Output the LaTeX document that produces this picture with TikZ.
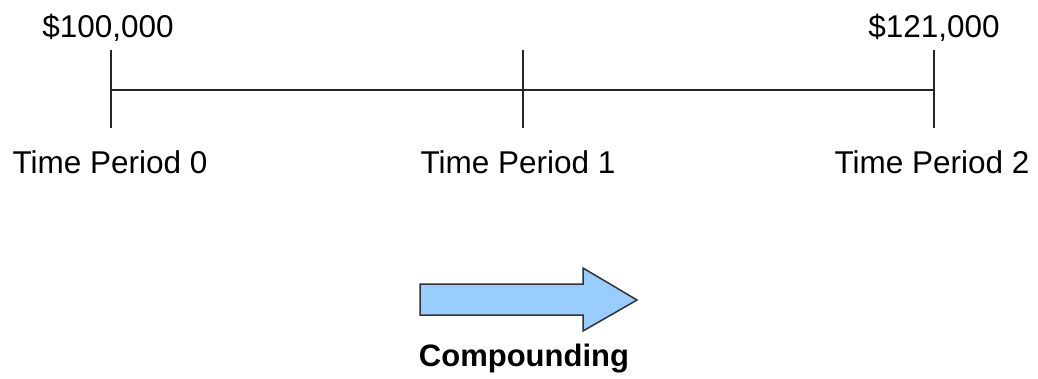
\documentclass[tikz,border=0pt]{standalone}
\usepackage{fontspec}
\setmainfont{Liberation Sans}
\begin{document}
\begin{tikzpicture}[x=1pt,y=-1pt,
  lbl/.style={inner sep=0pt,anchor=base,font=\fontsize{31.5}{37}\selectfont},
  tl/.style={line width=2pt,draw=black!85}]
\useasboundingbox (0,0) rectangle (1038,378);
% ticks and axis
\coordinate (t0a) at (111,50);  \coordinate (t0b) at (111,128);
\coordinate (t1a) at (523,50);  \coordinate (t1b) at (523,128);
\coordinate (t2a) at (934,50);  \coordinate (t2b) at (934,128);
\coordinate (a0) at (111,90);   \coordinate (a2) at (934,90);
\draw[tl] (t0a) -- (t0b);
\draw[tl] (t1a) -- (t1b);
\draw[tl] (t2a) -- (t2b);
\draw[tl] (a0) -- (a2);
% labels
\node[lbl] (v0) at (108,37) {\$100,000};
\node[lbl] (v2) at (934,37) {\$121,000};
\node[lbl] (p0) at (110,173) {Time Period 0};
\node[lbl] (p1) at (518,173) {Time Period 1};
\node[lbl] (p2) at (932,173) {Time Period 2};
% compounding arrow
\draw[line width=1.5pt,draw=black!80,fill={rgb,255:red,153;green,204;blue,255},line join=miter]
  (420,284) -- (583,284) -- (583,268) -- (637,300) -- (583,331) -- (583,315) -- (420,315) -- cycle;
\node[lbl,font=\fontsize{31}{37}\selectfont\bfseries] (cmp) at (524,366) {Compounding};
\end{tikzpicture}
\end{document}
